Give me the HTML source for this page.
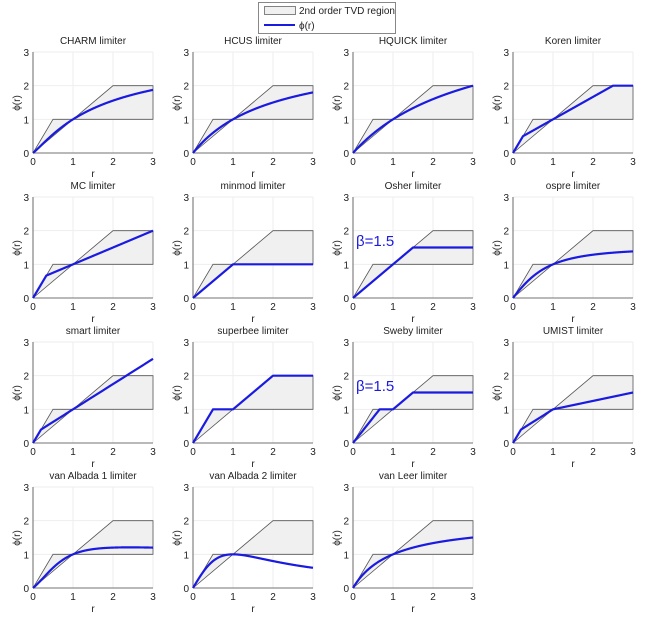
<!DOCTYPE html>
<html><head><meta charset="utf-8"><style>
body{margin:0;background:#fff}
svg{display:block;font-family:"Liberation Sans",Arial,sans-serif}
.t{font-size:10px;fill:#222;text-anchor:middle}
.tk{font-size:10px;fill:#222}
</style></head><body>
<svg id="s" width="650" height="621" viewBox="0 0 650 621">
<rect width="650" height="621" fill="#fff"/>
<rect x="258.5" y="2.5" width="137" height="31" fill="#fff" stroke="#888"/>
<rect x="264.5" y="6.5" width="31" height="8" fill="#f0f0f0" stroke="#666" stroke-width="0.8"/>
<text x="299" y="14" class="tk">2nd order TVD region</text>
<line x1="264" y1="25" x2="295" y2="25" stroke="#1a1ae0" stroke-width="2"/>
<text x="299" y="29" class="tk">ϕ(r)</text>
<g id="plots"></g>
<text x="93" y="44" class="t">CHARM limiter</text>
<text x="253" y="44" class="t">HCUS limiter</text>
<text x="413" y="44" class="t">HQUICK limiter</text>
<text x="573" y="44" class="t">Koren limiter</text>
<text x="93" y="189" class="t">MC limiter</text>
<text x="253" y="189" class="t">minmod limiter</text>
<text x="413" y="189" class="t">Osher limiter</text>
<text x="573" y="189" class="t">ospre limiter</text>
<text x="93" y="334" class="t">smart limiter</text>
<text x="253" y="334" class="t">superbee limiter</text>
<text x="413" y="334" class="t">Sweby limiter</text>
<text x="573" y="334" class="t">UMIST limiter</text>
<text x="93" y="479" class="t">van Albada 1 limiter</text>
<text x="253" y="479" class="t">van Albada 2 limiter</text>
<text x="413" y="479" class="t">van Leer limiter</text>
<text x="356" y="246" style="font-size:15px;fill:#1a1ae0">β=1.5</text>
<text x="356" y="391" style="font-size:15px;fill:#1a1ae0">β=1.5</text>
</svg>
<script>
var NS="http://www.w3.org/2000/svg",g=document.getElementById("plots");
function el(n,a){var e=document.createElementNS(NS,n);for(var k in a)e.setAttribute(k,a[k]);g.appendChild(e);return e;}
var mn=Math.min,mx=Math.max,b=1.5;
var F=[
r=>r*(3*r+1)/((r+1)*(r+1)),
r=>1.5*2*r/(r+2),
r=>4*r/(r+3),
r=>mx(0,mn(2*r,(1+2*r)/3,2)),
r=>mx(0,mn(2*r,0.5*(1+r),2)),
r=>mx(0,mn(1,r)),
r=>mx(0,mn(r,b)),
r=>1.5*(r*r+r)/(r*r+r+1),
r=>mx(0,mn(2*r,0.25+0.75*r,4)),
r=>mx(0,mn(2*r,1),mn(r,2)),
r=>mx(0,mn(b*r,1),mn(r,b)),
r=>mx(0,mn(2*r,0.25+0.75*r,0.75+0.25*r,2)),
r=>(r*r+r)/(r*r+1),
r=>2*r/(r*r+1),
r=>2*r/(1+r)];
F.forEach(function(f,i){
 var c=i%4,k=Math.floor(i/4),x0=33+160*c,y0=153+145*k,sx=40,sy=101/3;
 function X(r){return x0+r*sx}function Y(v){return y0-v*sy}
 for(var j=1;j<=3;j++){el("line",{x1:X(j),y1:y0,x2:X(j),y2:y0-101,stroke:"#eee","stroke-width":1});
  el("line",{x1:x0,y1:Y(j),x2:x0+120,y2:Y(j),stroke:"#eee","stroke-width":1});}
 var pts=[[0,0],[0.5,1],[1,1],[2,2],[3,2],[3,1],[1,1]].map(p=>X(p[0])+","+Y(p[1])).join(" ");
 el("polygon",{points:pts,fill:"#f0f0f0",stroke:"#555","stroke-width":0.8});
 el("line",{x1:x0,y1:y0,x2:x0,y2:y0-101,stroke:"#444","stroke-width":0.8});
 el("line",{x1:x0,y1:y0,x2:x0+120,y2:y0,stroke:"#444","stroke-width":0.8});
 for(var j=0;j<=3;j++){
  var t=el("text",{x:X(j),y:y0+12,"class":"t"});t.textContent=j;
  t=el("text",{x:x0-4,y:Y(j)+4,"class":"tk","text-anchor":"end"});t.textContent=j;}
 var t=el("text",{x:x0+60,y:y0+24,"class":"t"});t.textContent="r";
 t=el("text",{x:0,y:0,"class":"t",transform:"translate("+(x0-13)+","+(y0-50)+") rotate(-90)"});t.textContent="ϕ(r)";
 var d="";for(var n=0;n<=600;n++){var r=n*3/600;d+=(n?"L":"M")+X(r).toFixed(2)+","+Y(f(r)).toFixed(2);}
 el("path",{d:d,fill:"none",stroke:"#1a1ae0","stroke-width":2.2,"stroke-linejoin":"round"});
});
</script>
</body></html>
